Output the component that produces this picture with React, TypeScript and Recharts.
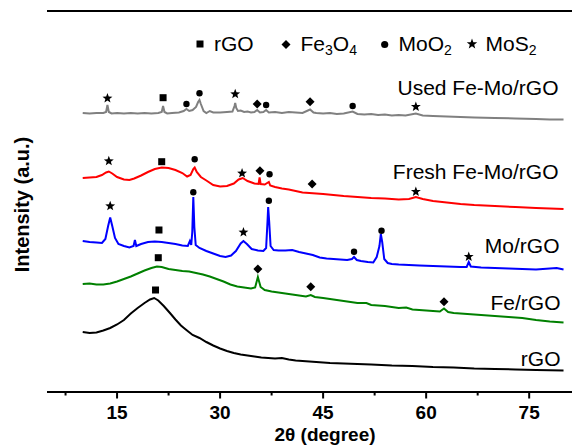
import React from 'react';
import {
  ComposedChart,
  Line,
  Scatter,
  XAxis,
  YAxis,
  ReferenceLine,
} from 'recharts';

// traces: [2theta, offset intensity]
const usedFeMo = [
  [10, 279], [11, 278.5], [12, 279], [13, 279], [13.4, 280], [13.6, 287], [13.8, 280], [14.2, 278.5],
  [15, 279], [16, 278.5], [17, 279], [18, 278.5], [19, 279], [20, 278.5], [21, 279], [21.5, 280],
  [21.7, 286], [21.9, 280], [22.3, 278.5], [23, 279], [24, 279.5], [24.7, 281], [25.1, 283], [25.5, 281],
  [26, 282], [26.5, 285], [26.8, 290], [27.0, 292], [27.2, 288], [27.6, 281], [28, 279], [28.5, 281],
  [29, 279.5], [30, 279.5], [31, 280], [31.8, 280.5], [32.1, 286], [32.2, 289], [32.35, 284], [32.6, 281],
  [33, 281.5], [33.5, 280], [34, 280.5], [34.5, 279.5], [35, 280], [35.4, 282], [35.8, 279.5], [36.3, 280],
  [36.7, 282], [37.1, 279.5], [38, 280], [39, 279], [40, 280], [41, 279.5], [42, 279], [43.1, 282.5],
  [43.6, 279.5], [44, 279], [45, 278.5], [46, 279], [47, 278], [48, 278.5], [49.3, 280.5], [50, 278],
  [51, 277.5], [52, 278], [53, 277], [54, 277.5], [55, 276.5], [56, 277], [57, 276.5], [58.5, 278.5],
  [59.5, 276.5], [61, 276], [63, 275.5], [65, 275], [67, 274.5], [70, 274], [73, 273.5], [76, 273],
  [78, 272.5], [80, 272.5],
];

const freshFeMo = [
  [10, 214], [11, 214.5], [12, 215], [12.8, 217], [13.4, 219.5], [13.8, 220.5], [14.3, 218.5], [15, 215],
  [16, 212.5], [16.8, 212], [17.5, 213.5], [18.5, 216.5], [19.5, 220], [20.5, 223], [21.5, 224.5],
  [22.5, 224], [23.5, 222], [24.5, 219], [25.2, 215.5], [25.7, 217], [26.1, 223], [26.3, 224.5],
  [26.6, 220], [27.2, 215], [28, 211.5], [29, 207], [30, 205.5], [31, 206], [32, 208.5], [32.7, 212.5],
  [33.3, 214], [34, 211], [35, 208.5], [35.6, 208], [35.75, 214.5], [35.9, 208], [36.5, 207.5],
  [37.1, 210], [37.3, 206.5], [38, 205], [39, 203.5], [40, 202.5], [41, 201], [42, 199.5], [43, 199],
  [44, 198.5], [45, 198], [46.5, 197], [48, 196], [50, 195], [52, 194], [54, 193.5], [56, 192.5],
  [57.5, 193], [58.5, 195], [59.5, 193], [61, 191], [63, 189.5], [65, 188], [67, 187], [70, 186],
  [73, 185], [76, 184], [78, 183.5], [80, 183],
];

const moRGO = [
  [10, 151], [11, 150], [12, 149.5], [12.8, 149], [13.3, 153], [13.7, 166], [14.0, 174.5], [14.3, 166],
  [14.7, 154], [15.2, 148], [16, 146], [16.8, 144.5], [17.4, 146], [17.6, 152], [17.8, 146], [18.5, 148],
  [19.5, 150], [20.5, 150.5], [21.5, 150], [22.5, 149], [23.5, 148], [24.5, 146.5], [25.3, 146],
  [25.6, 151], [25.8, 147], [25.95, 160], [26.1, 195], [26.25, 165], [26.45, 147], [27, 144], [28, 141],
  [29, 138.5], [30, 136], [30.8, 135], [31.6, 136.5], [32.3, 141], [33, 148.5], [33.4, 151], [33.9, 148],
  [34.6, 143], [35.5, 141.5], [36.3, 141], [36.7, 144], [36.9, 170], [37.0, 185], [37.15, 170],
  [37.35, 146], [37.8, 142], [38.5, 141.5], [39.5, 141.5], [40.5, 142], [41.5, 140], [42.5, 138.5],
  [43.5, 137], [44.5, 134.5], [45.5, 133.5], [46.5, 133], [47.5, 132.5], [48.5, 132], [49.2, 133],
  [49.5, 135], [49.9, 132], [50.5, 131], [51.5, 130], [52.3, 129.5], [52.8, 135], [53.2, 146],
  [53.4, 158], [53.6, 150], [53.9, 133], [54.4, 129], [55, 128], [56, 127.5], [57.5, 127], [59, 126.5],
  [61, 126], [63, 125.5], [65, 125], [65.9, 125], [66.2, 130], [66.5, 125.5], [68, 124.5], [70, 124],
  [72, 123.5], [74, 123], [76, 122.5], [78, 123.5], [79, 124], [80, 122.5],
];

const feRGO = [
  [10, 108], [11, 108.5], [12, 107.5], [13, 107.5], [14, 108.5], [15, 110.5], [16, 113], [17, 115.5],
  [18, 118.5], [19, 121.5], [20, 124], [20.8, 125.5], [21.5, 125], [22.5, 123], [23.5, 122], [24.5, 121],
  [25.5, 120.5], [26.5, 119], [27.5, 117.5], [28.5, 115.5], [29.5, 113], [30.5, 110.5], [31.5, 107.5],
  [32.5, 105.5], [33.5, 104.5], [34.5, 103.5], [35.1, 104.5], [35.5, 115], [35.9, 105], [36.5, 102],
  [37.5, 100.5], [38.5, 99.5], [39.5, 98.5], [40.5, 97.5], [41.5, 96.5], [42.5, 95.5], [43.2, 97],
  [43.8, 95], [45, 94], [46, 93], [47, 92], [48, 91], [49, 90], [50, 89], [51.3, 89], [52, 87],
  [53, 86.5], [54, 86], [55, 85], [56, 84], [57.1, 84.5], [58, 82.5], [59, 82], [60, 81.5], [61, 81],
  [62, 80.5], [62.6, 83.5], [63.2, 80], [64, 79], [66, 78], [68, 77], [70, 76], [72, 75], [74, 74],
  [76, 72], [78, 70.5], [80, 69.5],
];

const rGO = [
  [10, 60], [11, 59], [12, 59.5], [13, 61.5], [14, 64], [15, 67.5], [16, 72], [17, 78.5], [18, 84],
  [19, 89], [19.8, 92.5], [20.4, 94], [21, 91.5], [21.8, 86], [22.7, 79], [23.5, 72.5], [24.3, 66.5],
  [25, 62.5], [26, 57], [27, 54], [28, 50], [29, 46.5], [30, 43.5], [31, 41], [32, 39], [33, 37.5],
  [34, 36.5], [35, 35.5], [36, 34.5], [37, 34], [38, 33.5], [39, 34], [40, 32.5], [41, 31.5], [42, 31],
  [44, 30], [46, 29], [48, 28.5], [50, 28], [52, 27.5], [55, 26.5], [58, 26], [61, 25], [64, 24.5],
  [67, 23.5], [70, 23], [73, 22.5], [76, 22], [80, 21.5],
];

// peak markers
const squareMarks = [[21.7, 294.3], [21.5, 230.3], [21.1, 162], [21.0, 134.3], [20.6, 102]];
const diamondMarks = [[35.4, 288], [43.1, 290.3], [35.8, 221.3], [43.4, 208], [35.5, 123], [43.2, 105.3], [62.6, 90.3]];
const circleMarks = [
  [25.1, 288], [27.0, 298.7], [36.7, 287], [49.3, 286], [26.3, 232.7], [37.2, 217.7],
  [26.1, 199.7], [37.1, 191.3], [49.5, 140.3], [53.5, 161.3],
];
const starMarks = [
  [13.6, 293.7], [32.2, 298], [58.5, 285.3], [13.8, 231], [33.2, 218.7], [58.5, 200.3],
  [14.0, 186], [33.4, 159.7], [66.2, 135.3],
];

const xTicks = [7.5, 15, 22.5, 30, 37.5, 45, 52.5, 60, 67.5, 75, 82.5];

const series = [
  { name: 'Used Fe-Mo/rGO', data: usedFeMo, color: '#808080' },
  { name: 'Fresh Fe-Mo/rGO', data: freshFeMo, color: '#ff0000' },
  { name: 'Mo/rGO', data: moRGO, color: '#0000ff' },
  { name: 'Fe/rGO', data: feRGO, color: '#008000' },
  { name: 'rGO', data: rGO, color: '#000000' },
];

const FONT = '"Liberation Sans", Arial, Helvetica, sans-serif';

const toPts = (arr: number[][]) => arr.map(([x, y]) => ({ x, y }));

const starPath = (cx: number, cy: number, R: number) => {
  const r = R * 0.42;
  let d = '';
  for (let i = 0; i < 10; i++) {
    const rad = i % 2 === 0 ? R : r;
    const a = -Math.PI / 2 + (i * Math.PI) / 5;
    d += `${i === 0 ? 'M' : 'L'}${cx + rad * Math.cos(a)},${cy + rad * Math.sin(a)}`;
  }
  return d + 'Z';
};

const SquareMark = ({ cx, cy }: any) => <rect x={cx - 3.5} y={cy - 3.5} width={7} height={7} fill="#000" />;
const DiamondMark = ({ cx, cy }: any) => (
  <path d={`M${cx},${cy - 4.5}L${cx + 4.5},${cy}L${cx},${cy + 4.5}L${cx - 4.5},${cy}Z`} fill="#000" />
);
const CircleMark = ({ cx, cy }: any) => <circle cx={cx} cy={cy} r={3.2} fill="#000" />;
const StarMark = ({ cx, cy }: any) => <path d={starPath(cx, cy, 5.2)} fill="#000" />;

const XTick = ({ x, y, payload }: any) => {
  const major = payload.value % 15 === 0;
  return (
    <g>
      <line x1={x} x2={x} y1={y} y2={y + (major ? 6.5 : 3.5)} stroke="#000" strokeWidth={2} />
      {major && (
        <text x={x} y={y + 27} textAnchor="middle" fontSize={19} fontWeight="bold" fontFamily={FONT} fill="#000">
          {payload.value}
        </text>
      )}
    </g>
  );
};

const labelPos = [
  { x: 558.5, y: 95 },
  { x: 558.5, y: 178.5 },
  { x: 559.5, y: 252.5 },
  { x: 560.5, y: 310 },
  { x: 560.5, y: 366 },
];

export default function App() {
  return (
    <div style={{ position: 'fixed', left: 0, top: 0, width: 572, height: 445, overflow: 'hidden', background: '#fff' }}>
      <ComposedChart width={600} height={445} margin={{ top: 11, right: 9, bottom: 0, left: 47 }}>
        <XAxis
          type="number"
          dataKey="x"
          domain={[4.8, 84]}
          ticks={xTicks}
          interval={0}
          tickSize={0}
          tickMargin={0}
          height={53}
          axisLine={{ stroke: '#000', strokeWidth: 2 }}
          tickLine={false}
          tick={<XTick />}
          allowDataOverflow
        />
        <YAxis
          type="number"
          dataKey="y"
          domain={[0, 381]}
          width={0}
          tick={false}
          tickLine={false}
          axisLine={{ stroke: '#000', strokeWidth: 2 }}
          allowDataOverflow
        />
        <ReferenceLine y={381} stroke="#000" strokeWidth={2} />
        {series.map((s) => (
          <Line
            key={s.name}
            data={toPts(s.data)}
            dataKey="y"
            type="linear"
            stroke={s.color}
            strokeWidth={2}
            dot={false}
            activeDot={false}
            isAnimationActive={false}
          />
        ))}
        <Scatter data={toPts(squareMarks)} dataKey="y" shape={<SquareMark />} isAnimationActive={false} />
        <Scatter data={toPts(diamondMarks)} dataKey="y" shape={<DiamondMark />} isAnimationActive={false} />
        <Scatter data={toPts(circleMarks)} dataKey="y" shape={<CircleMark />} isAnimationActive={false} />
        <Scatter data={toPts(starMarks)} dataKey="y" shape={<StarMark />} isAnimationActive={false} />
      </ComposedChart>
      <svg width={572} height={445} style={{ position: 'absolute', left: 0, top: 0, pointerEvents: 'none' }}>
        <g fontFamily={FONT} fontSize={21} fill="#000">
          <rect x={196.5} y={40.5} width={7} height={7} fill="#000" />
          <text x={214} y={51}>rGO</text>
          <path d="M286,40L290.5,44.5L286,49L281.5,44.5Z" fill="#000" />
          <text x={300.5} y={51}>
            Fe<tspan fontSize={14} dy={4}>3</tspan>
            <tspan dy={-4}>O</tspan>
            <tspan fontSize={14} dy={4}>4</tspan>
          </text>
          <circle cx={384.7} cy={44.5} r={3.6} fill="#000" />
          <text x={398.5} y={51}>
            MoO<tspan fontSize={14} dy={4}>2</tspan>
          </text>
          <path d={starPath(472, 44, 5.5)} fill="#000" />
          <text x={485.5} y={51}>
            MoS<tspan fontSize={14} dy={4}>2</tspan>
          </text>
          {series.map((s, i) => (
            <text key={s.name} x={labelPos[i].x} y={labelPos[i].y} textAnchor="end">
              {s.name}
            </text>
          ))}
        </g>
        <text
          x={0}
          y={0}
          transform="translate(29,204.5) rotate(-90)"
          textAnchor="middle"
          fontFamily={FONT}
          fontSize={20}
          fontWeight="bold"
        >
          Intensity (a.u.)
        </text>
        <text x={325} y={440.5} textAnchor="middle" fontFamily={FONT} fontSize={19} fontWeight="bold">
          2θ (degree)
        </text>
      </svg>
    </div>
  );
}
